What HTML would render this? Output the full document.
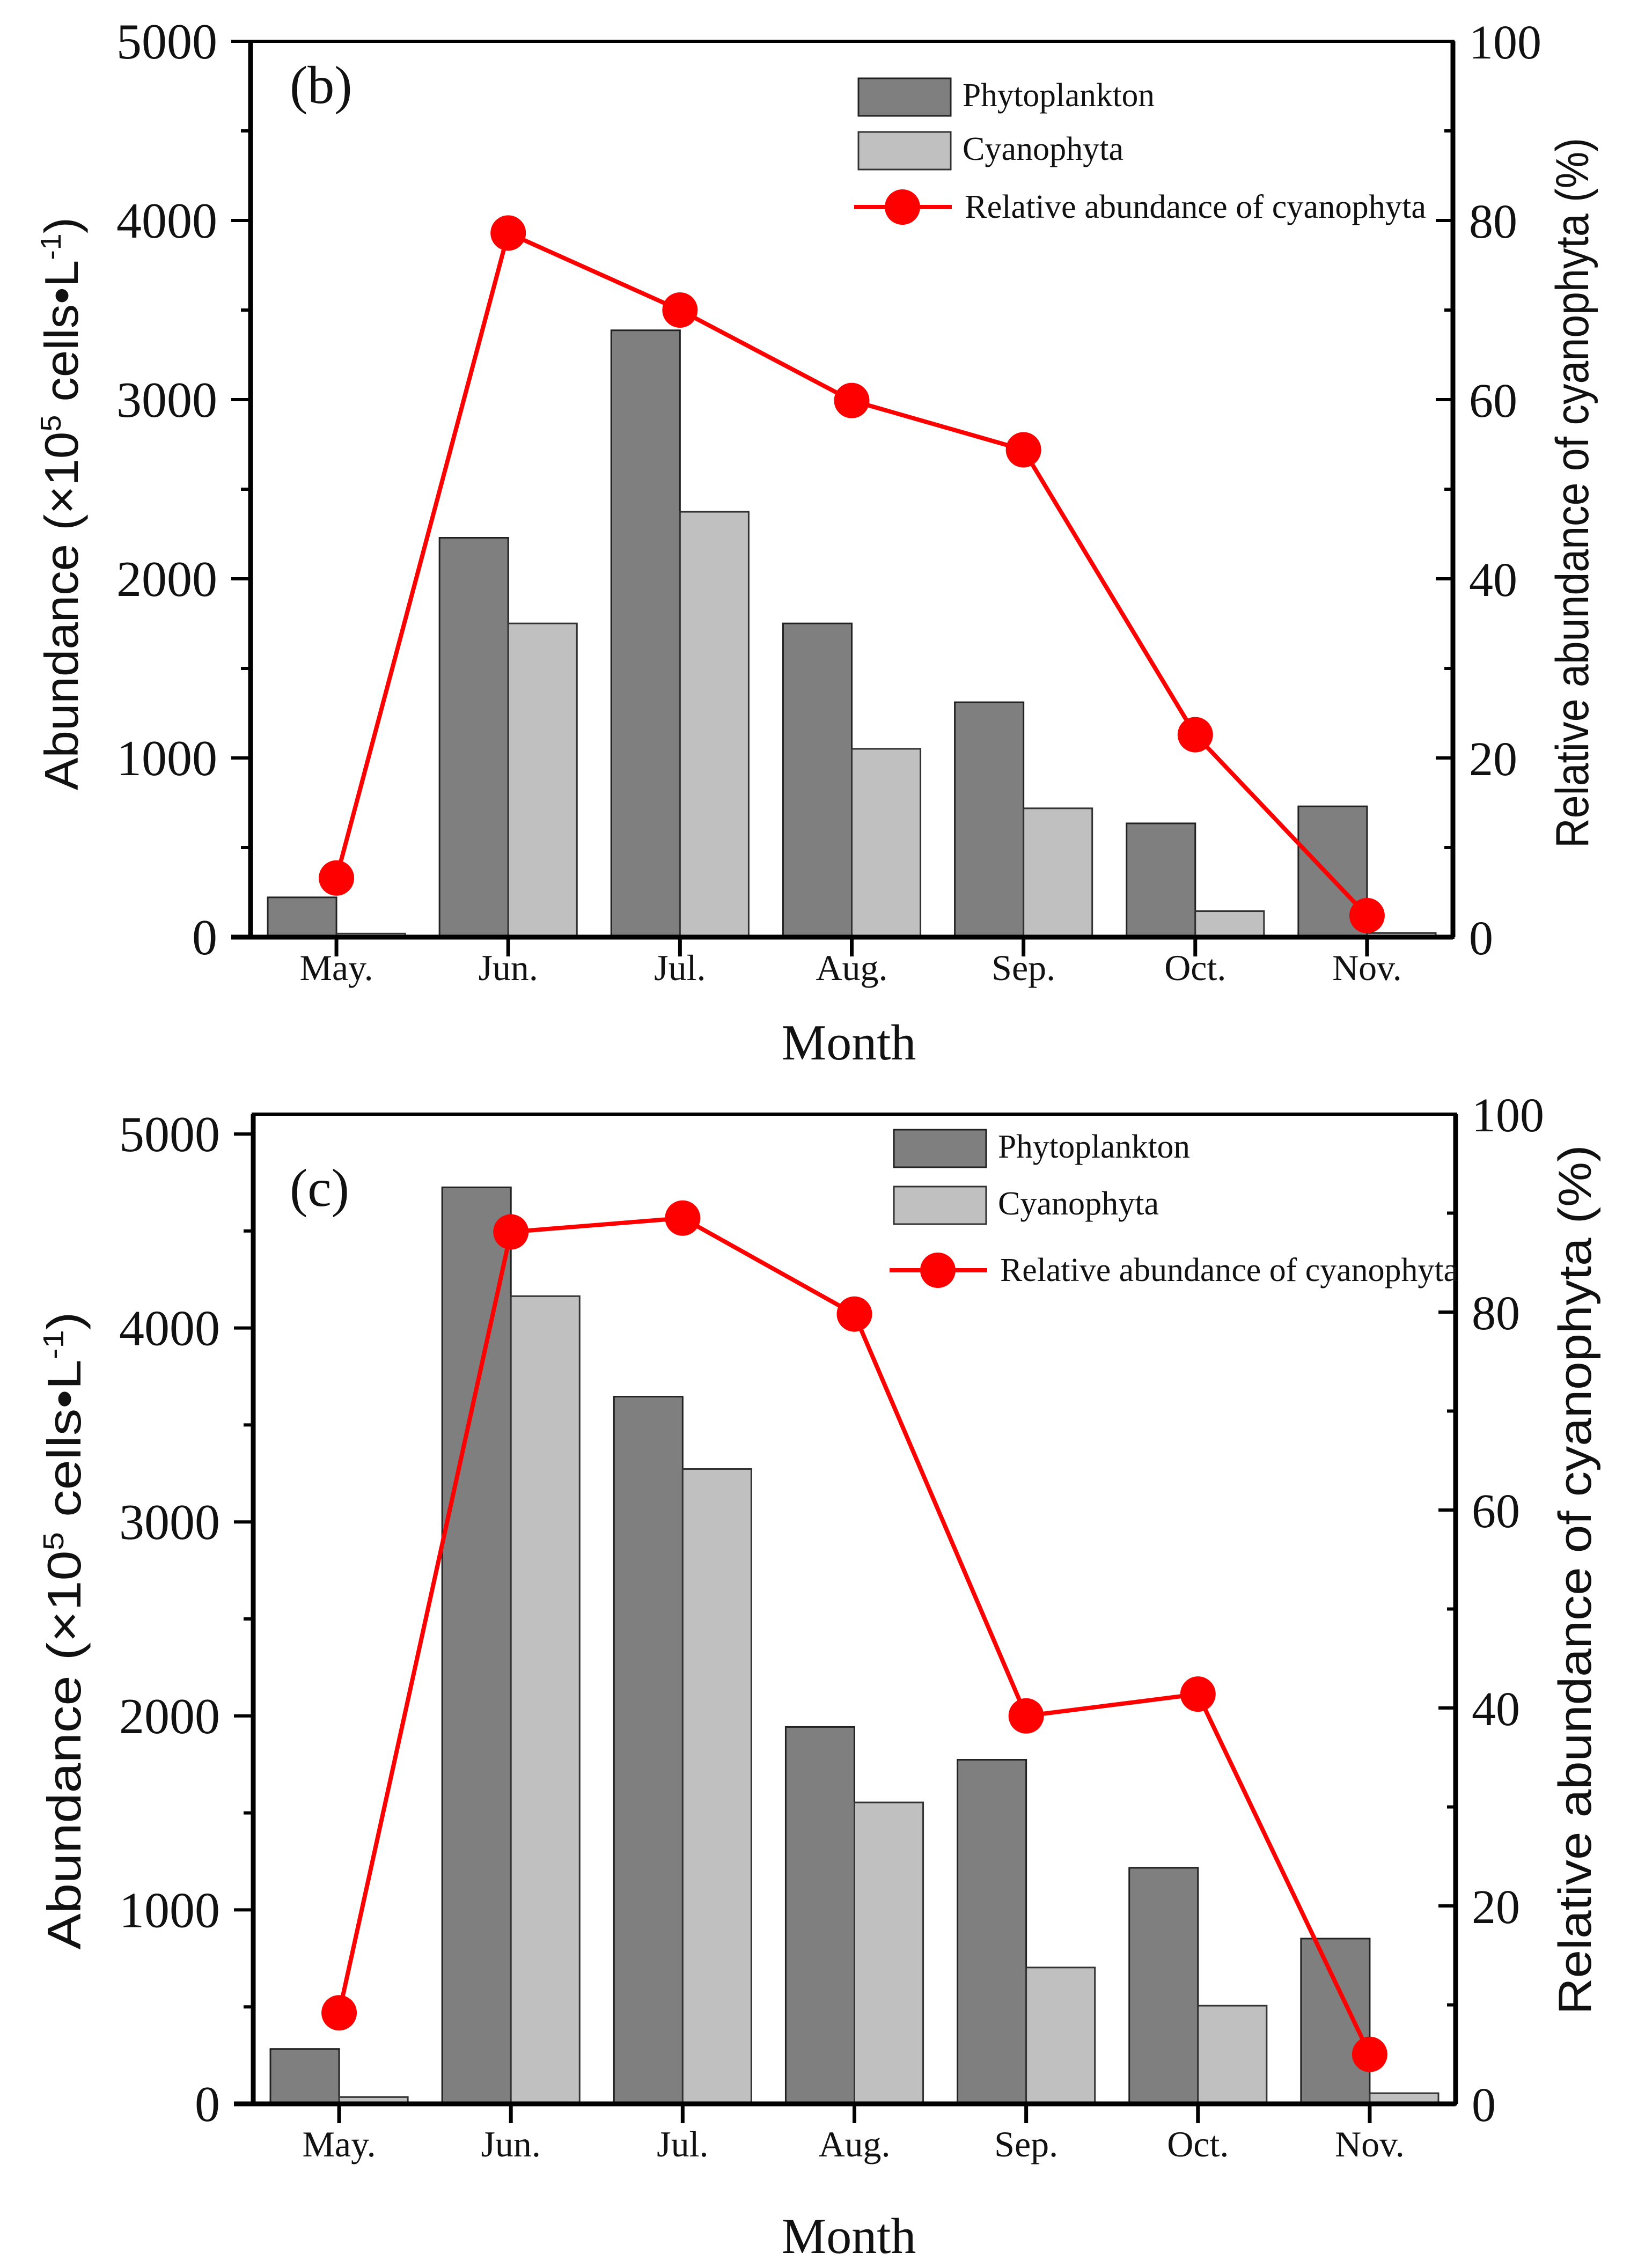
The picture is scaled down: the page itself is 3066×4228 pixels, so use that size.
<!DOCTYPE html>
<html><head><meta charset="utf-8">
<style>
html,body{margin:0;padding:0;background:#fff;}
svg{display:block;}
text{font-family:"Liberation Serif","Times New Roman",serif;fill:#111;}
.sans{font-family:"Liberation Sans",Arial,sans-serif;}
</style></head>
<body>
<svg id="fig" width="3066" height="4228" viewBox="0 0 3066 4228" xmlns="http://www.w3.org/2000/svg"></svg>
<script>
const months = ["May.","Jun.","Jul.","Aug.","Sep.","Oct.","Nov."];
const leftTicks = [0,1000,2000,3000,4000,5000];
const rightTicks = [0,20,40,60,80,100];
const phytoB = [222,2229,3387,1751,1311,635,730];
const cyanoB = [20,1751,2374,1051,719,145,23];
const relB = [6.6,78.6,70,59.9,54.4,22.6,2.4];
const phytoC = [283,4725,3646,1943,1774,1217,852];
const cyanoC = [35,4164,3273,1554,703,506,55];
const relC = [9.2,88.1,89.5,79.8,39.2,41.4,5];

const NS = "http://www.w3.org/2000/svg";
const svg = document.getElementById('fig');
function mk(tag, attrs, parent){
  const e = document.createElementNS(NS, tag);
  for (const k in attrs) e.setAttribute(k, attrs[k]);
  (parent||svg).appendChild(e);
  return e;
}
function txt(s, attrs, parent){ const t = mk('text', attrs, parent); t.textContent = s; return t; }

function panel(p, phyto, cyano, rel){
  const g = mk('g', {});
  
  
  const n = months.length;
  const bw = (p.R - p.L) / n;
  const xc = i => p.L + (i + 0.5) * bw;
  const yL = v => p.B - v / 5000 * (p.B - p.y5000);
  const yR = v => p.B - v / 100 * (p.B - p.T);
  const barW = bw * 0.4;

  for (let i = 0; i < n; i++){
    const r1 = mk('rect', {x: xc(i) - barW, y: yL(phyto[i]), width: barW, height: p.B - yL(phyto[i]), fill: '#7f7f7f', stroke: '#222', 'stroke-width': 3}, g);
    
    
    const r2 = mk('rect', {x: xc(i), y: yL(cyano[i]), width: barW, height: p.B - yL(cyano[i]), fill: '#c0c0c0', stroke: '#333', 'stroke-width': 3}, g);
    
    
  }
  const pts = rel.map((v, i) => xc(i) + ',' + yR(v)).join(' ');
  const pl = mk('polyline', {points: pts, fill: 'none', stroke: '#ff0000', 'stroke-width': 8}, g);
  
  
  for (let i = 0; i < n; i++){
    const c = mk('circle', {cx: xc(i), cy: yR(rel[i]), r: 33, fill: '#ff0000'}, g);
    
    
  }
  const fr = mk('rect', {x: p.L, y: p.T, width: p.R - p.L, height: p.B - p.T, fill: 'none', stroke: '#000', 'stroke-width': 6}, g);
  
  
  mk('line', {x1: p.L, y1: p.T, x2: p.L, y2: p.B + 3, stroke: '#000', 'stroke-width': 9}, g);
  mk('line', {x1: p.L - 36, y1: p.B, x2: p.R, y2: p.B, stroke: '#000', 'stroke-width': 9}, g);
  mk('line', {x1: p.R, y1: p.T, x2: p.R, y2: p.B, stroke: '#000', 'stroke-width': 9}, g);

  for (let v = 0; v <= 5000; v += 500){
    const major = v % 1000 === 0;
    mk('line', {x1: p.L - (major ? 36 : 18), y1: yL(v), x2: p.L, y2: yL(v), stroke: '#000', 'stroke-width': 6}, g);
  }
  leftTicks.forEach(v => {
    const t = txt(String(v), {x: p.L - 62, y: yL(v) + 32, 'font-size': 94, 'text-anchor': 'end'}, g);
    
    
  });
  for (let v = 0; v <= 100; v += 10){
    const major = v % 20 === 0;
    mk('line', {x1: p.R - (major ? 32 : 16), y1: yR(v), x2: p.R, y2: yR(v), stroke: '#000', 'stroke-width': 6}, g);
  }
  rightTicks.forEach(v => {
    const t = txt(String(v), {x: p.R + 30, y: yR(v) + 32, 'font-size': 90, 'text-anchor': 'start'}, g);
    
    
  });
  months.forEach((m, i) => {
    mk('line', {x1: xc(i), y1: p.B, x2: xc(i), y2: p.B + 36, stroke: '#000', 'stroke-width': 7}, g);
    const t = txt(m, {x: xc(i), y: p.B + p.mlOff, 'font-size': 68, 'text-anchor': 'middle'}, g);
    
    
  });
  const xt = txt('Month', {x: 1582, y: p.monthY, 'font-size': 94, 'text-anchor': 'middle'}, g);
  
  

  const yt = mk('text', {class: 'sans', transform: 'translate(' + (p.L - 322) + ',' + p.ltC + ') rotate(-90)', 'font-size': 88, 'text-anchor': 'middle', textLength: p.ltLen, lengthAdjust: 'spacingAndGlyphs'}, g);
  
  
  yt.innerHTML = 'Abundance (×10<tspan dy="-32" font-size="54">5</tspan><tspan dy="32"> cells•L</tspan><tspan dy="-32" font-size="54">-1</tspan><tspan dy="32">)</tspan>';

  const rt = txt('Relative abundance of cyanophyta (%)', {class: 'sans', transform: 'translate(' + (p.R + 252) + ',' + p.rtC + ') rotate(-90)', 'font-size': 86, 'text-anchor': 'middle', textLength: p.rtLen, lengthAdjust: 'spacingAndGlyphs'}, g);
  
  

  const pt = txt(p.letter, {x: 540, y: p.letterY, 'font-size': 100}, g);
  
  

  const lg = mk('g', {}, g);
  
  
  const b1 = mk('rect', {x: p.lgX, y: p.lgY, width: 172, height: 70, fill: '#7f7f7f', stroke: '#222', 'stroke-width': 3}, lg);
  
  
  const t1 = txt('Phytoplankton', {x: p.lgX + 194, y: p.lgY + 52, 'font-size': 62, textLength: 358, lengthAdjust: 'spacingAndGlyphs'}, lg);
  
  
  const b2 = mk('rect', {x: p.lgX, y: p.lgY + p.lgGap, width: 172, height: 70, fill: '#c0c0c0', stroke: '#333', 'stroke-width': 3}, lg);
  
  
  const t2 = txt('Cyanophyta', {x: p.lgX + 194, y: p.lgY + p.lgGap + 52, 'font-size': 62, textLength: 300, lengthAdjust: 'spacingAndGlyphs'}, lg);
  
  
  const ly = p.lgLineY;
  mk('line', {x1: p.lgX - 8, y1: ly, x2: p.lgX + 174, y2: ly, stroke: '#ff0000', 'stroke-width': 8}, lg);
  mk('circle', {cx: p.lgX + 82, cy: ly, r: 33, fill: '#ff0000'}, lg);
  const t3 = txt('Relative abundance of cyanophyta', {x: p.lgX + 198, y: ly + 20, 'font-size': 62, textLength: p.lgRelLen, lengthAdjust: 'spacingAndGlyphs'}, lg);
  
  
}

panel({id:'b', letter:'(b)', L:467, R:2708, T:77, B:1747, y5000:77, mlOff:80,
  monthY:1975, ltC:939, ltLen:1068, rtC:919, rtLen:1324, letterY:192,
  lgX:1600, lgY:146, lgGap:100, lgLineY:386, lgRelLen:860}, phytoB, cyanoB, relB);

panel({id:'c', letter:'(c)', L:472, R:2713, T:2077, B:3922, y5000:2114, mlOff:98,
  monthY:4200, ltC:3040, ltLen:1189, rtC:2945, rtLen:1621, letterY:2248,
  lgX:1666, lgY:2106, lgGap:106, lgLineY:2368, lgRelLen:854}, phytoC, cyanoC, relC);
</script>
</body></html>
